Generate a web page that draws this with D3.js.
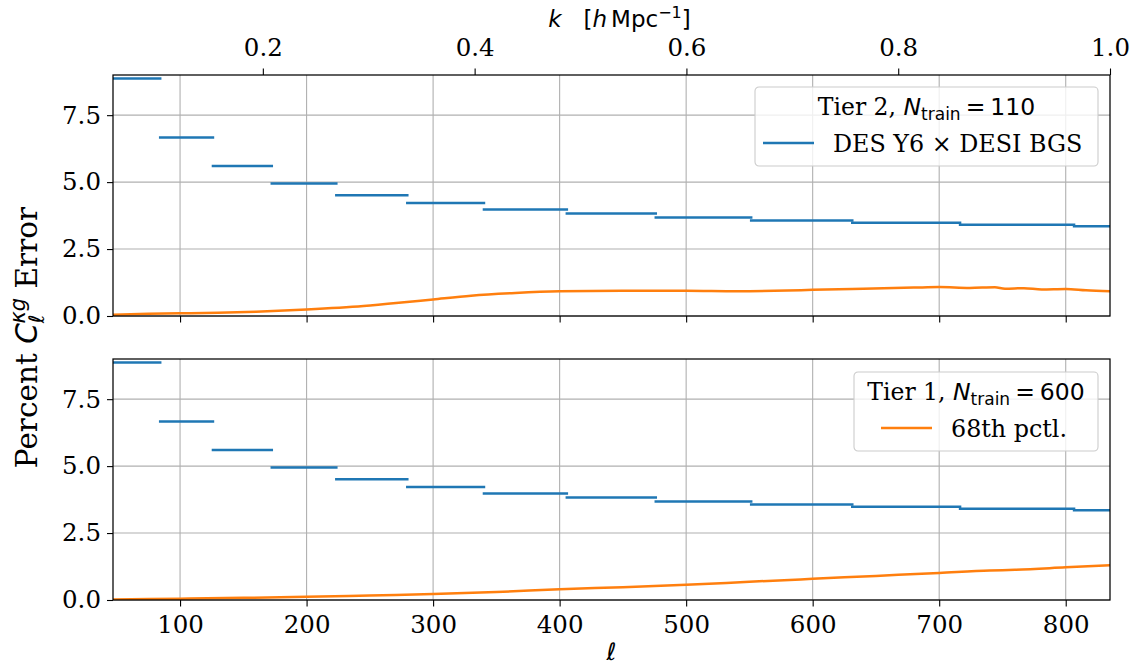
<!DOCTYPE html>
<html>
<head>
<meta charset="utf-8">
<script src="https://cdn.jsdelivr.net/npm/d3@7"></script>
<style>
  body { margin: 0; background: #fff; }
  .tick text { font-family: "DejaVu Serif", serif; font-size: 24.5px; fill: #000; }
  .tick line { stroke: #000; stroke-width: 1.1; }
</style>
</head>
<body>
<script>
// percent error of C_ell^{kappa g}, two training tiers

// binned DES Y6 x DESI BGS error (same in both panels)
var binEdges = [40, 84.3, 126, 172.5, 223.5, 279.6, 340.2, 405.7, 476, 551.4, 631.3, 716.5, 806.6, 840];
var binErr   = [8.87, 6.67, 5.60, 4.95, 4.51, 4.22, 3.98, 3.83, 3.68, 3.57, 3.48, 3.41, 3.35];

// 68th percentile emulator error, Tier 2 (N_train = 110)
var ellTier2 = [47, 75, 100, 130, 160, 200, 245, 275, 300, 330, 365, 400, 450, 500, 540, 580, 600, 640, 680, 700, 724, 744, 752, 767, 781, 800, 816, 835];
var pctTier2 = [0.05, 0.08, 0.10, 0.12, 0.16, 0.24, 0.37, 0.50, 0.62, 0.76, 0.86, 0.92, 0.94, 0.94, 0.92, 0.95, 0.98, 1.02, 1.06, 1.08, 1.05, 1.07, 1.02, 1.04, 0.99, 1.01, 0.96, 0.92];

// 68th percentile emulator error, Tier 1 (N_train = 600)
var ellTier1 = [47, 100, 150, 200, 250, 300, 350, 400, 450, 500, 550, 600, 650, 700, 740, 760, 800, 835];
var pctTier1 = [0.02, 0.05, 0.08, 0.12, 0.17, 0.22, 0.30, 0.40, 0.48, 0.57, 0.68, 0.79, 0.90, 1.01, 1.10, 1.13, 1.22, 1.30];

var yTicks = [0, 2.5, 5.0, 7.5];
var ellTicks = [100, 200, 300, 400, 500, 600, 700, 800];
var kTicks = [0.2, 0.4, 0.6, 0.8, 1.0];

var blue = '#1f77b4', orange = '#ff7f0e';
var left = 113, right = 1110, panelH = 241;
var panels = [
  {top: 75, title: ['Tier 2, ', '110'], ell: ellTier2, pct: pctTier2, legend: 'DES Y6 × DESI BGS', color: blue, topAxis: true,
   box: {x: 755, y: 87, w: 343, h: 79}, handle: 8, labelX: 78},
  {top: 359, title: ['Tier 1, ', '600'], ell: ellTier1, pct: pctTier1, legend: '68th pctl.', color: orange, topAxis: false,
   box: {x: 854, y: 372, w: 244, h: 79}, handle: 27, labelX: 97}
];

var svg = d3.select('body').append('svg')
  .attr('width', 1140)
  .attr('height', 668)
  .style('font-family', '"DejaVu Serif", serif');

var xScale = d3.scaleLinear().domain([47, 835]).range([left, right]);
var kScale = d3.scaleLinear().domain([0.0585, 1.0]).range([left, right]);
var yScale = d3.scaleLinear().domain([0, 9.0]).range([panelH, 0]);

var steps = binErr.map(function(v, i){ return {x0: binEdges[i], x1: binEdges[i+1], v: v}; });

panels.forEach(function(p, pi){
  var g = svg.append('g').attr('transform', 'translate(0,' + p.top + ')');

  g.append('clipPath').attr('id', 'clip' + pi)
    .append('rect').attr('x', left).attr('y', 0).attr('width', right - left).attr('height', panelH);

  // grid
  g.selectAll('.vgrid').data(ellTicks).enter().append('line')
    .attr('x1', function(d){ return xScale(d); }).attr('x2', function(d){ return xScale(d); })
    .attr('y1', 0).attr('y2', panelH)
    .attr('stroke', '#b0b0b0').attr('stroke-width', 1.1);
  g.selectAll('.hgrid').data(yTicks).enter().append('line')
    .attr('x1', left).attr('x2', right)
    .attr('y1', function(d){ return yScale(d); }).attr('y2', function(d){ return yScale(d); })
    .attr('stroke', '#b0b0b0').attr('stroke-width', 1.1);

  var plot = g.append('g').attr('clip-path', 'url(#clip' + pi + ')');

  // binned steps
  plot.selectAll('.step').data(steps).enter().append('line')
    .attr('x1', function(d){ return xScale(d.x0); })
    .attr('x2', function(d){ return xScale(d.x1); })
    .attr('y1', function(d){ return yScale(d.v); })
    .attr('y2', function(d){ return yScale(d.v); })
    .attr('stroke', blue).attr('stroke-width', 2.5).attr('stroke-linecap', 'square');

  // percentile curve
  var line = d3.line()
    .x(function(d, i){ return xScale(p.ell[i]); })
    .y(function(d){ return yScale(d); })
    .curve(d3.curveMonotoneX);
  plot.append('path').datum(p.pct)
    .attr('d', line).attr('fill', 'none')
    .attr('stroke', orange).attr('stroke-width', 2.5);

  // axes
  var ax = g.append('g').attr('transform', 'translate(' + left + ',0)')
    .call(d3.axisLeft(yScale).tickValues(yTicks).tickFormat(d3.format('.1f')).tickSize(6).tickPadding(6));
  ax.select('.domain').remove();

  var bx = g.append('g').attr('transform', 'translate(0,' + panelH + ')')
    .call(d3.axisBottom(xScale).tickValues(ellTicks).tickSize(6.5).tickPadding(9)
      .tickFormat(pi === 1 ? d3.format('d') : function(){ return ''; }));
  bx.select('.domain').remove();

  if (p.topAxis) {
    var tx = g.append('g')
      .call(d3.axisTop(kScale).tickValues(kTicks).tickFormat(d3.format('.1f')).tickSize(6.5).tickPadding(13));
    tx.select('.domain').remove();
  }

  // spines
  g.append('rect').attr('x', left).attr('y', 0).attr('width', right - left).attr('height', panelH)
    .attr('fill', 'none').attr('stroke', '#000').attr('stroke-width', 1.25);

  // legend
  var lg = g.append('g').attr('transform', 'translate(' + p.box.x + ',' + (p.box.y - p.top) + ')');
  lg.append('rect').attr('width', p.box.w).attr('height', p.box.h).attr('rx', 4)
    .attr('fill', '#fff').attr('fill-opacity', 0.8).attr('stroke', '#cccccc').attr('stroke-width', 1.1);
  var t = lg.append('text').attr('x', p.box.w / 2).attr('y', 28).attr('text-anchor', 'middle')
    .attr('font-size', 23.5);
  t.append('tspan').text(p.title[0]);
  t.append('tspan').attr('font-family', '"DejaVu Sans", sans-serif').attr('font-style', 'italic').text('N');
  t.append('tspan').attr('font-family', '"DejaVu Sans", sans-serif').attr('font-size', 17).attr('dy', 5).text('train');
  t.append('tspan').attr('font-family', '"DejaVu Sans", sans-serif').attr('dy', -5).attr('dx', 5).text('=');
  t.append('tspan').attr('font-family', '"DejaVu Sans", sans-serif').attr('dx', 5).text(p.title[1]);
  lg.append('line').attr('x1', p.handle).attr('x2', p.handle + 51).attr('y1', 56).attr('y2', 56)
    .attr('stroke', p.color).attr('stroke-width', 2.5);
  lg.append('text').attr('x', p.labelX).attr('y', 64.5).attr('font-size', 23.8).text(p.legend);
});

// top axis label  k [h Mpc^-1]
var kl = svg.append('text').attr('x', (left + right) / 2 + 8).attr('y', 27).attr('text-anchor', 'middle')
  .style('font-family', '"DejaVu Sans", sans-serif').attr('font-size', 23);
kl.append('tspan').attr('font-style', 'italic').text('k');
kl.append('tspan').attr('dx', 22).text('[');
kl.append('tspan').attr('font-style', 'italic').text('h');
kl.append('tspan').attr('dx', 4).text('Mpc');
kl.append('tspan').attr('font-size', 16).attr('dy', -9).text('−1');
kl.append('tspan').attr('dy', 9).text(']');

// x label
svg.append('text').attr('x', (left + right) / 2).attr('y', 660).attr('text-anchor', 'middle')
  .style('font-family', '"DejaVu Sans", sans-serif').attr('font-style', 'italic').attr('font-size', 24).text('ℓ');

// y label  Percent C_ell^{kappa g} Error
var yl = svg.append('text').attr('transform', 'translate(37,' + ((75 + 359 + panelH) / 2) + ') rotate(-90)')
  .attr('text-anchor', 'middle').attr('font-size', 29.5);
yl.append('tspan').text('Percent ');
yl.append('tspan').style('font-family', '"DejaVu Sans", sans-serif').attr('font-style', 'italic').text('C');
yl.append('tspan').style('font-family', '"DejaVu Sans", sans-serif').attr('font-style', 'italic')
  .attr('font-size', 21).attr('dy', 7).text('ℓ');
yl.append('tspan').style('font-family', '"DejaVu Sans", sans-serif').attr('font-style', 'italic')
  .attr('font-size', 21).attr('dx', -9).attr('dy', -19).text('κg');
yl.append('tspan').attr('dy', 12).text(' Error');
</script>
</body>
</html>
